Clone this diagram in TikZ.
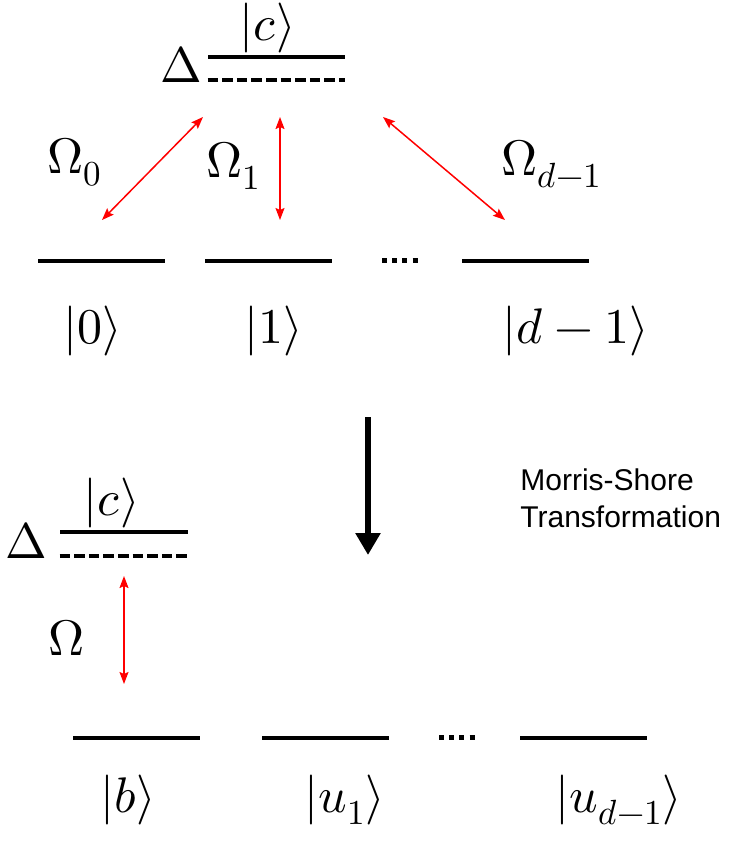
\documentclass[tikz,border=0pt]{standalone}
\usepackage{unicode-math}
\setmathfont{Latin Modern Math}
\newfontfamily\notefont{Liberation Sans}
\usetikzlibrary{arrows.meta}

\begin{document}
\begin{tikzpicture}[
  x=0.5pt,y=-0.5pt,
  font=\fontsize{25}{29}\selectfont,
  >={Stealth[length=6pt,width=4.5pt,inset=1pt]},
  level/.style={fill=black,inner sep=0pt,minimum width=63.5pt,minimum height=2pt},
  exlevel/.style={level,minimum width=68.5pt},
  virtual/.style={line width=2pt,dash pattern=on 5.3pt off 2pt},
  ket/.style={anchor=base,inner sep=0pt},
  rabi/.style={<->,red,line width=0.75pt},
  dotrow/.style={line width=2.5pt,dash pattern=on 2.5pt off 2.6pt},
  transform/.style={-{Triangle[length=11pt,width=12pt]},line width=3pt},
  note/.style={font=\notefont\fontsize{15}{18.5}\selectfont,align=left,
               anchor=west,inner sep=0pt},
]
\useasboundingbox (0,0) rectangle (733,842);
% ---------- upper scheme: d ground states ----------
\node[exlevel] (c0) at (276.5,57) {};
\draw[virtual] ([yshift=-11.5pt]c0.west) -- ([yshift=-11.5pt]c0.east);
\node[ket] (kc0) at (268,40) {$|c\rangle$};
\node[ket] (del0) at (181,82) {$\Delta$};
\node[level] (g0) at (101.5,260.5) {};
\node[level] (g1) at (268,260.5) {};
\node[level] (gd) at (525.5,260.5) {};
\draw[dotrow] (382,260.5) -- (418,260.5);
\node[ket] (k0) at (93,343) {$|0\rangle$};
\node[ket] (k1) at (274,343) {$|1\rangle$};
\node[ket] (kd) at (576,343) {$|d-1\rangle$};
% couplings
\coordinate (a0t) at (203,117);  \coordinate (a0b) at (102,220);
\coordinate (a1t) at (280,117);  \coordinate (a1b) at (280,220);
\coordinate (adt) at (383,117);  \coordinate (adb) at (505,220);
\draw[rabi] (a0b) -- (a0t);
\draw[rabi] (a1b) -- (a1t);
\draw[rabi] (adb) -- (adt);
\node[ket] (om0) at (75,173) {$\Omega_0$};
\node[ket] (om1) at (234,177) {$\Omega_1$};
\node[ket] (omd) at (552,175) {$\Omega_{d-1}$};
% ---------- transformation ----------
\coordinate (mstop) at (368,417);
\coordinate (msbot) at (368,555);
\draw[transform] (mstop) -- (msbot);
\node[note] (ms) at (520,498) {Morris-Shore\\Transformation};
% ---------- lower scheme: bright + dark states ----------
\node[level,minimum width=64pt] (cb) at (124,532) {};
\draw[virtual] ([yshift=-12pt]cb.west) -- ([yshift=-12pt]cb.east);
\node[ket] (kcb) at (112,515) {$|c\rangle$};
\node[ket] (delb) at (26,558) {$\Delta$};
\node[level] (b) at (136,737.5) {};
\node[level] (u1) at (325.5,737.5) {};
\node[level] (ud) at (583.5,737.5) {};
\draw[dotrow] (439,737.5) -- (475,737.5);
\coordinate (abt) at (124,576);  \coordinate (abb) at (124,684);
\draw[rabi] (abb) -- (abt);
\node[ket] (omb) at (67,655) {$\Omega$};
\node[ket] (kb) at (128,812) {$|b\rangle$};
\node[ket] (ku1) at (345,812) {$|u_1\rangle$};
\node[ket] (kud) at (619,812) {$|u_{d-1}\rangle$};
\end{tikzpicture}
\end{document}
